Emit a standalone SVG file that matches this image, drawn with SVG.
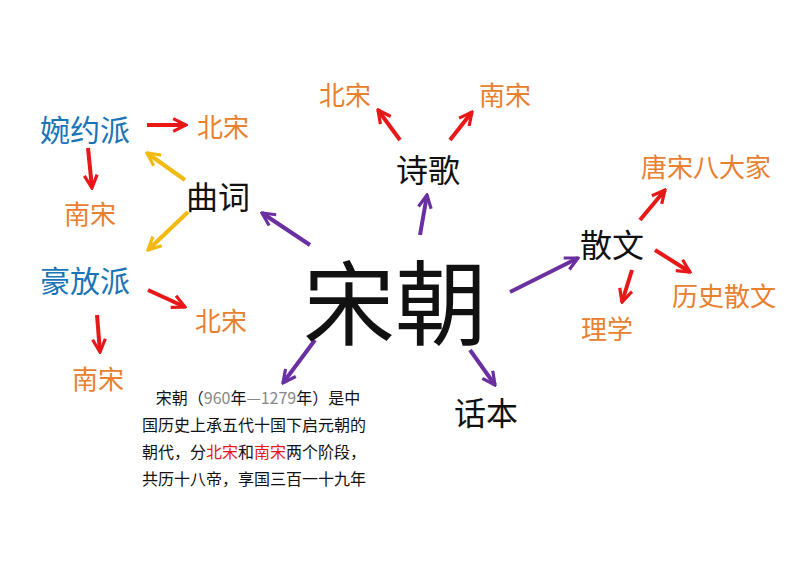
<svg xmlns="http://www.w3.org/2000/svg" width="794" height="562" viewBox="0 0 794 562">
<style>
text{font-family:"Noto Sans CJK SC","Noto Sans",sans-serif;text-anchor:middle;dominant-baseline:central}
.o{fill:#e8802e;font-size:26px}.b{fill:#1a74b8;font-size:30px}.k{fill:#111;font-size:32px}
.p{stroke:#6a2fa0;stroke-width:4;fill:none;marker-end:url(#mp)}
.y{stroke:#f2b90f;stroke-width:4;fill:none;marker-end:url(#my)}
.r{stroke:#e81818;stroke-width:4;fill:none;marker-end:url(#mr)}
</style>
<defs>
<marker id="mp" viewBox="0 0 10 10" refX="9" refY="5" markerWidth="4" markerHeight="4" orient="auto" markerUnits="strokeWidth"><polyline points="1,1 9,5 1,9" fill="none" stroke="#6a2fa0" stroke-width="2"/></marker>
<marker id="my" viewBox="0 0 10 10" refX="9" refY="5" markerWidth="4" markerHeight="4" orient="auto" markerUnits="strokeWidth"><polyline points="1,1 9,5 1,9" fill="none" stroke="#f2b90f" stroke-width="2"/></marker>
<marker id="mr" viewBox="0 0 10 10" refX="9" refY="5" markerWidth="4" markerHeight="4" orient="auto" markerUnits="strokeWidth"><polyline points="1,1 9,5 1,9" fill="none" stroke="#e81818" stroke-width="2"/></marker>
</defs>
<rect width="794" height="562" fill="#fff"/>
<g id="connectors">
<line class="p" x1="310" y1="245" x2="262" y2="213"/>
<line class="p" x1="420" y1="235" x2="427" y2="195"/>
<line class="p" x1="510" y1="292" x2="578" y2="258"/>
<line class="p" x1="470" y1="350" x2="495" y2="385"/>
<line class="p" x1="315" y1="340" x2="283" y2="383"/>
<line class="y" x1="185" y1="180" x2="147" y2="153"/>
<line class="y" x1="188" y1="212" x2="148" y2="250"/>
<line class="r" x1="147" y1="125" x2="186" y2="125"/>
<line class="r" x1="88" y1="148" x2="92" y2="188"/>
<line class="r" x1="148" y1="290" x2="185" y2="307"/>
<line class="r" x1="97" y1="315" x2="100" y2="352"/>
<line class="r" x1="400" y1="140" x2="378" y2="110"/>
<line class="r" x1="450" y1="140" x2="472" y2="112"/>
<line class="r" x1="640" y1="220" x2="665" y2="190"/>
<line class="r" x1="655" y1="250" x2="690" y2="272"/>
<line class="r" x1="632" y1="270" x2="622" y2="302"/>
</g>
<g id="songchao"><text x="395" y="297" style="font-size:92px;fill:#111">宋朝</text></g>
<g id="quci"><text class="k" x="218" y="195">曲词</text></g>
<g id="wanyue"><text class="b" x="85" y="128">婉约派</text></g>
<g id="wanyue-bs"><text class="o" x="223" y="125">北宋</text></g>
<g id="wanyue-ns"><text class="o" x="90" y="212">南宋</text></g>
<g id="haofang"><text class="b" x="85" y="279">豪放派</text></g>
<g id="haofang-bs"><text class="o" x="221" y="319">北宋</text></g>
<g id="haofang-ns"><text class="o" x="98" y="377">南宋</text></g>
<g id="shige"><text class="k" x="428" y="168">诗歌</text></g>
<g id="shige-bs"><text class="o" x="345" y="93">北宋</text></g>
<g id="shige-ns"><text class="o" x="505" y="93">南宋</text></g>
<g id="sanwen"><text class="k" x="612" y="243">散文</text></g>
<g id="tangsong"><text class="o" x="706" y="165">唐宋八大家</text></g>
<g id="lishi"><text class="o" x="724" y="294">历史散文</text></g>
<g id="lixue"><text class="o" x="607" y="327">理学</text></g>
<g id="huaben"><text class="k" x="486" y="411">话本</text></g>
<g id="desc" style="font-size:16px;fill:#111">
<text x="258" y="397">宋朝（<tspan fill="#888">960</tspan>年<tspan fill="#888">—1279</tspan>年）是中</text>
<text x="254" y="424">国历史上承五代十国下启元朝的</text>
<text x="254" y="451">朝代，分<tspan fill="#e81818">北宋</tspan>和<tspan fill="#e81818">南宋</tspan>两个阶段，</text>
<text x="254" y="478">共历十八帝，享国三百一十九年</text>
</g>
</svg>
